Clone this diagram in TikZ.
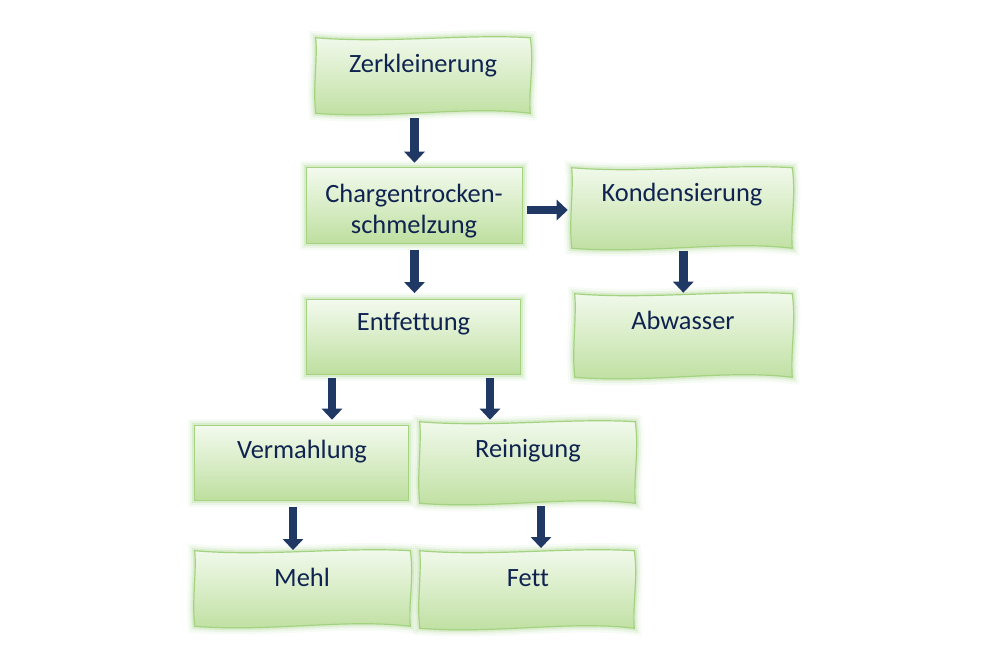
\documentclass[tikz,border=0pt]{standalone}
\usepackage{fontspec}
\setmainfont{Carlito}[Ligatures=NoCommon]
\usetikzlibrary{calc,arrows.meta}
\definecolor{navy}{HTML}{1F3864}
\definecolor{txt}{HTML}{0F2350}
\definecolor{gtop}{HTML}{F3FAEE}
\definecolor{gbot}{HTML}{BEDF9F}
\definecolor{gline}{HTML}{A3D381}
\definecolor{glowc}{HTML}{9ACE75}
\tikzset{
  boxnode/.style={rectangle, inner sep=0pt, draw=none},
  greenfill/.style={
    preaction={draw=glowc, line width=10pt, draw opacity=0.07},
    preaction={draw=glowc, line width=6.5pt, draw opacity=0.12},
    preaction={draw=glowc, line width=3.5pt, draw opacity=0.22},
    top color=gtop, bottom color=gbot, draw=gline, line width=0.9pt},
  arr/.style={draw=navy, line width=6.4pt, -{Triangle[width=15pt,length=8.25pt]}},
  lbl/.style={font=\fontsize{19.8}{23}\selectfont, text=txt, anchor=base, inner sep=0pt}
}
\newcommand\wavybox[1]{%
  \path[greenfill] (#1.north west)
    .. controls ($(#1.north west)!0.33!(#1.north east)+(0,6)$) and ($(#1.north west)!0.7!(#1.north east)+(0,-4)$) .. (#1.north east)
    .. controls ($(#1.north east)!0.35!(#1.south east)+(4,0)$) and ($(#1.north east)!0.7!(#1.south east)+(-2,0)$) .. (#1.south east)
    .. controls ($(#1.south east)!0.3!(#1.south west)+(0,-8)$) and ($(#1.south east)!0.65!(#1.south west)+(0,6)$) .. (#1.south west)
    .. controls ($(#1.south west)!0.35!(#1.north west)+(-3,0)$) and ($(#1.south west)!0.7!(#1.north west)+(2,0)$) .. cycle;}
\newcommand\rectbox[1]{%
  \path[greenfill] (#1.north west) rectangle (#1.south east);}
\begin{document}
\begin{tikzpicture}[x=0.75pt,y=-0.75pt]
\useasboundingbox[fill=white] (0,0) rectangle (991,660);
% box nodes
\node[boxnode, minimum width=214*0.75pt, minimum height=75*0.75pt] (zk) at (423,75.5) {};
\node[boxnode, minimum width=215*0.75pt, minimum height=75*0.75pt] (cg) at (414.5,205.5) {};
\node[boxnode, minimum width=220*0.75pt, minimum height=80*0.75pt] (kd) at (682,208) {};
\node[boxnode, minimum width=217*0.75pt, minimum height=83*0.75pt] (ab) at (683.5,335.5) {};
\node[boxnode, minimum width=213*0.75pt, minimum height=74*0.75pt] (ef) at (413.5,337) {};
\node[boxnode, minimum width=213*0.75pt, minimum height=74*0.75pt] (vm) at (301.5,463) {};
\node[boxnode, minimum width=215*0.75pt, minimum height=81*0.75pt] (rn) at (527.5,462.5) {};
\node[boxnode, minimum width=215*0.75pt, minimum height=75*0.75pt] (mh) at (302.5,588.5) {};
\node[boxnode, minimum width=214*0.75pt, minimum height=77*0.75pt] (ft) at (527,589.5) {};
% shapes
\wavybox{zk}
\rectbox{cg}
\wavybox{kd}
\wavybox{ab}
\rectbox{ef}
\rectbox{vm}
\wavybox{rn}
\wavybox{mh}
\wavybox{ft}
% labels
\node[lbl] (tzk) at (423,73) {Zerkleinerung};
\node[lbl] (tcg1) at (414,202) {Chargentrocken-};
\node[lbl] (tcg2) at (414,233) {schmelzung};
\node[lbl] (tkd) at (682,201) {Kondensierung};
\node[lbl] (tab) at (683,329) {Abwasser};
\node[lbl] (tef) at (413.5,330) {Entfettung};
\node[lbl] (tvm) at (302,458) {Vermahlung};
\node[lbl] (trn) at (528,457) {Reinigung};
\node[lbl] (tmh) at (302,586) {Mehl};
\node[lbl] (tft) at (528,586) {Fett};
% arrows
\draw[arr, shorten <=3.75pt, shorten >=3.75pt] (zk.south -| cg.north) -- (cg.north);
\coordinate (h1) at ([yshift=-3.4pt]cg.east);
\draw[arr, shorten <=3.75pt, shorten >=3pt] (h1) -- (h1 -| kd.west);
\draw[arr, shorten <=5pt, shorten >=5pt] (cg.south) -- (cg.south |- ef.north);
\coordinate (k1) at ([xshift=1pt]kd.south);
\draw[arr, shorten <=2pt, shorten >=0.75pt] (k1) -- (k1 |- ab.north);
\coordinate (e1) at ([xshift=-61.125pt]ef.south);
\coordinate (e2) at ([xshift=57.375pt]ef.south);
\draw[arr, shorten <=3pt, shorten >=4.5pt] (e1) -- (e1 |- vm.north);
\draw[arr, shorten <=3pt, shorten >=1.5pt] (e2) -- (e2 |- rn.north);
\coordinate (v1) at ([xshift=-6.375pt]vm.south);
\draw[arr, shorten <=5.25pt, shorten >=0.5pt] (v1) -- (v1 |- mh.north);
\coordinate (r1) at ([xshift=10.125pt]rn.south);
\draw[arr, shorten <=2pt, shorten >=2pt] (r1) -- (r1 |- ft.north);
\end{tikzpicture}
\end{document}
